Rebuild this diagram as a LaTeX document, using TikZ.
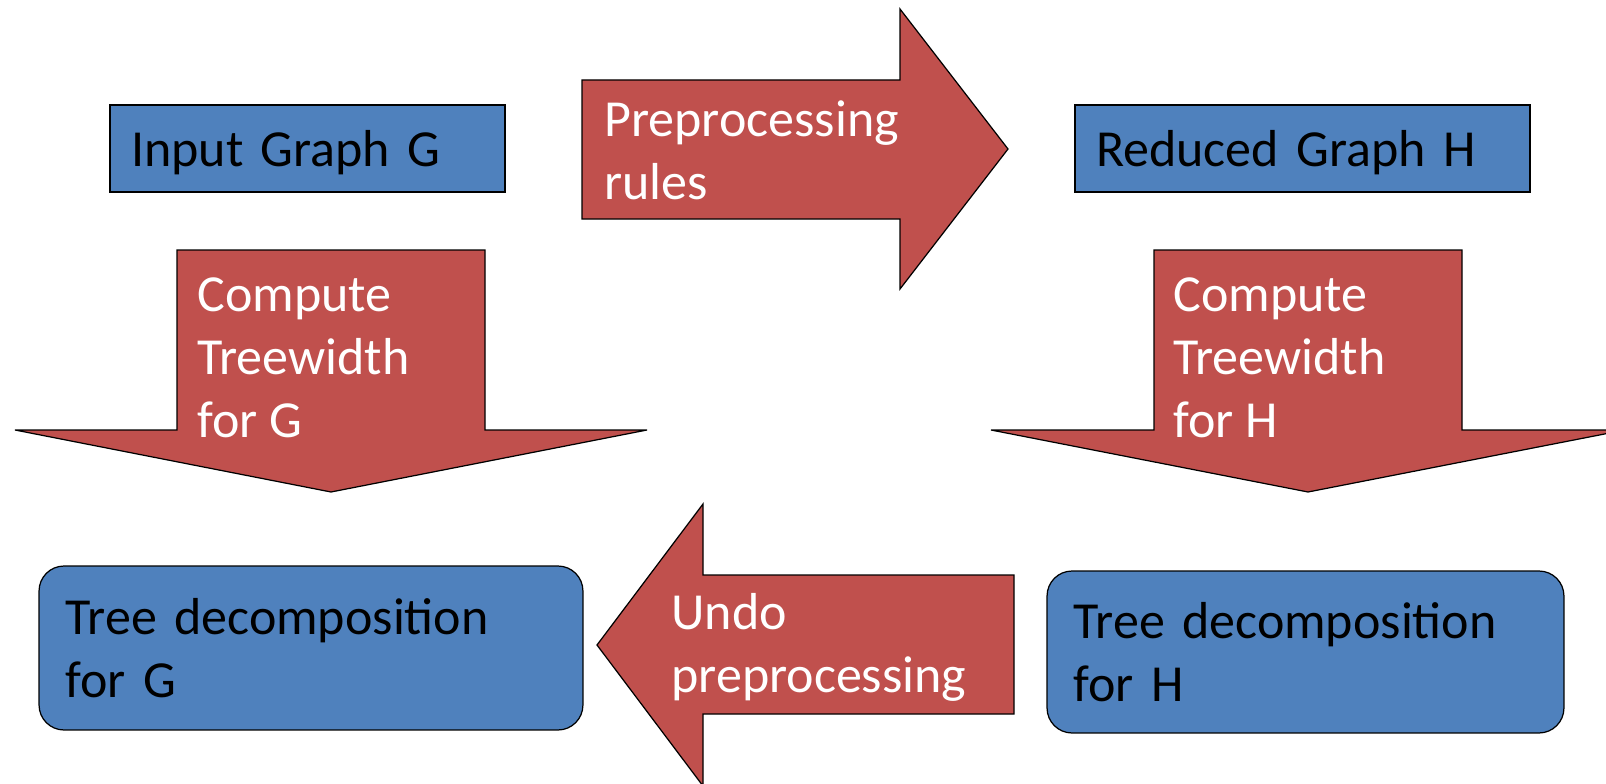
\documentclass[tikz,border=0pt]{standalone}
\usepackage{fontspec}
\setmainfont{Carlito}
\usetikzlibrary{positioning}
\definecolor{boxblue}{HTML}{4F81BD}
\definecolor{arrowred}{HTML}{C0504D}
\tikzset{%
	every node/.style = {font=\fontsize{29.6}{35.8}\selectfont},
	graphbox/.style   = {draw, rectangle, fill=boxblue, line width=0.7pt, inner xsep=0.42cm, text depth=0pt, align=left},
	decompbox/.style  = {draw, rectangle, rounded corners=0.5cm, fill=boxblue, line width=0.7pt, inner xsep=0.53cm, align=left},
	blockarrow/.style = {draw, fill=arrowred, line width=0.7pt, line join=miter},
	arrowtext/.style  = {text=white, anchor=base west, inner sep=0pt, align=left},
}

\begin{document}
\begin{tikzpicture}[x=0.02cm,y=-0.02cm]
	\clip (0,0) rectangle (1606,784);
	
	% graphs
	\node[graphbox, text width=7.06cm, minimum height=1.74cm] (input) at (307.5,148.5) {Input Graph G};
	\node[graphbox, text width=8.26cm, minimum height=1.74cm] (reduced) at (1302.5,148.5) {Reduced Graph H};
	
	% block arrows
	\draw[blockarrow] (582,80) -- (900,80) -- (900,9) -- (1008,149) -- (900,289) -- (900,219) -- (582,219) -- cycle;
	\draw[blockarrow] (177,250) -- (485,250) -- (485,430) -- (647,430) -- (331,492) -- (15,430) -- (177,430) -- cycle;
	\draw[blockarrow] (1154,250) -- (1462,250) -- (1462,430) -- (1625,430) -- (1308,492) -- (991,430) -- (1154,430) -- cycle;
	\draw[blockarrow] (1014,575) -- (703,575) -- (703,504) -- (597,645) -- (703,786) -- (703,714) -- (1014,714) -- cycle;
	
	% labels, anchored at the baseline of the last line
	\node[arrowtext] (prep) at (604,199) {Preprocessing\\rules};
	\node[arrowtext] (cwG) at (197,437) {Compute\\Treewidth\\for G};
	\node[arrowtext] (cwH) at (1173,437) {Compute\\Treewidth\\for H};
	\node[arrowtext] (undo) at (671,692) {Undo\\preprocessing};
	
	% decompositions
	\node[decompbox, text width=9.82cm, minimum height=3.28cm] (tdG) at (311,648) {Tree decomposition\\for G};
	\node[decompbox, text width=9.28cm, minimum height=3.24cm] (tdH) at (1305.5,652) {Tree decomposition\\for H};
\end{tikzpicture}
\end{document}
